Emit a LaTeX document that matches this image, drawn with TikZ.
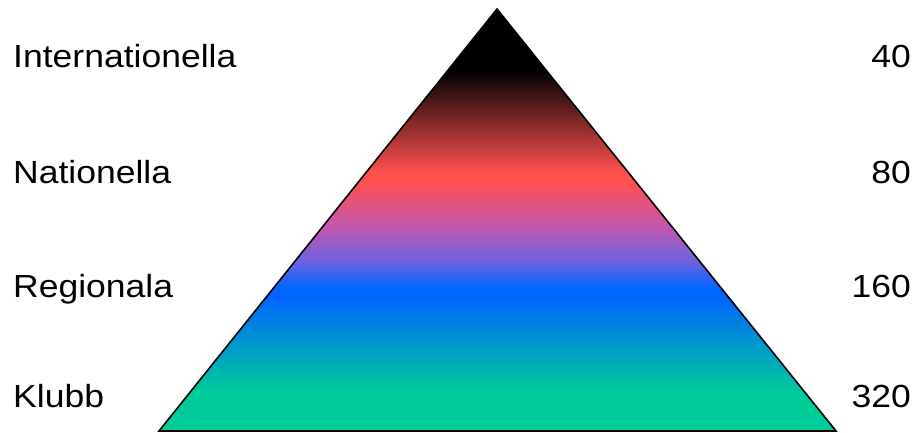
\documentclass[tikz,border=0pt]{standalone}
\usepackage{fontspec}
\setmainfont{Liberation Sans}[FakeStretch=1.11]
\usetikzlibrary{positioning}
\definecolor{TopBlack}{HTML}{000000}
\definecolor{MidRed}{HTML}{FF5050}
\definecolor{Violet}{HTML}{C058B0}
\definecolor{Indigo}{HTML}{6A62E2}
\definecolor{MidBlue}{HTML}{0066FF}
\definecolor{BaseGreen}{HTML}{00CC99}
\pgfdeclareverticalshading{pyramid}{100bp}{%
  color(0bp)=(BaseGreen); color(29.5bp)=(BaseGreen);
  color(40.8bp)=(MidBlue); color(41.9bp)=(MidBlue);
  color(45.0bp)=(Indigo); color(49.1bp)=(Violet);
  color(54.5bp)=(MidRed); color(55.7bp)=(MidRed);
  color(67.8bp)=(TopBlack); color(100bp)=(TopBlack)}

\begin{document}
\begin{tikzpicture}[x=1pt,y=-1pt,
    level/.style={font=\fontsize{32}{38}\selectfont,inner sep=0pt}]
  \useasboundingbox (0,0) rectangle (922,433);
  \coordinate (apex) at (497,9);
  \coordinate (left) at (159,431);
  \coordinate (right) at (836,431);
  \shadedraw[shading=pyramid,line width=1.6pt,line join=miter]
    (apex)--(left)--(right)--cycle;

  \foreach \y/\lab/\num/\name in {
    68/Internationella/40/int,184/Nationella/80/nat,
    297/Regionala/160/reg,407/Klubb/320/klu}{
    \node[level,anchor=base west] (\name) at (13,\y) {\lab};
    \node[level,anchor=base east] (\name-n) at (911,\y) {\num};
  }
\end{tikzpicture}
\end{document}
